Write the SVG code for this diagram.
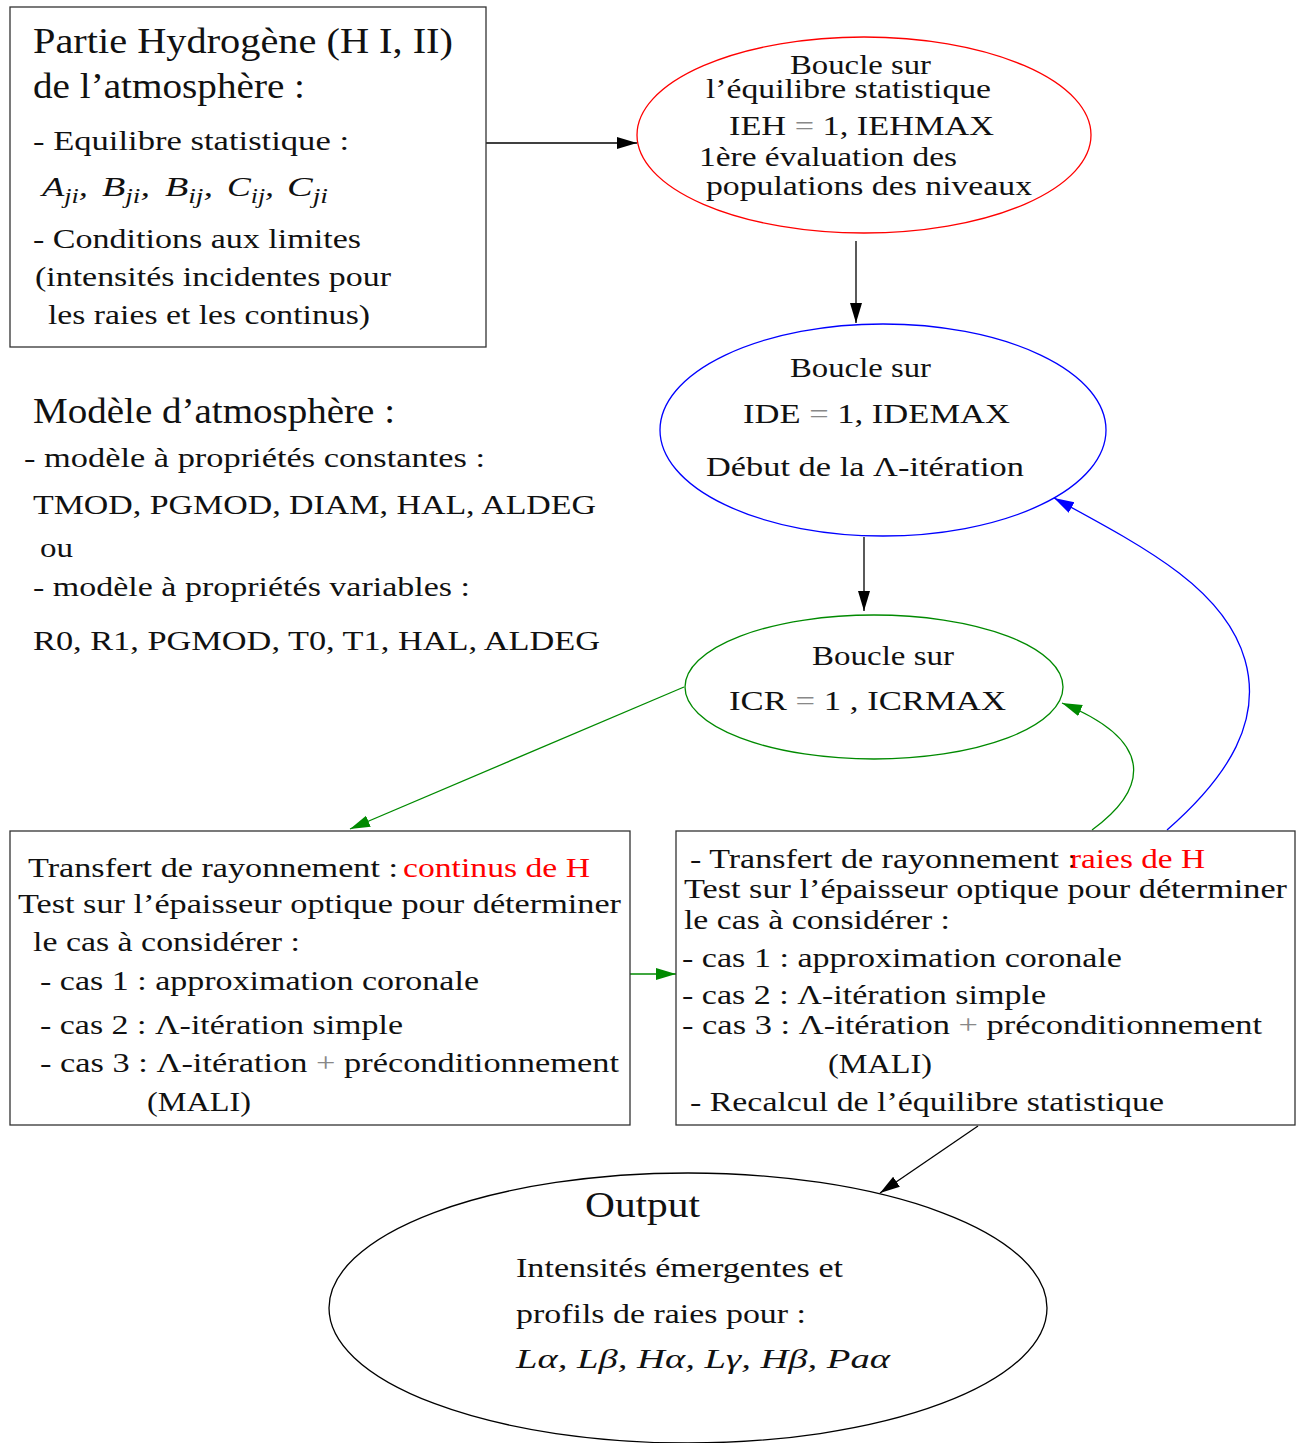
<svg xmlns="http://www.w3.org/2000/svg" width="1303" height="1443" viewBox="0 0 1303 1443">
<style>
text{font-family:"Liberation Serif","Times New Roman","DejaVu Serif",serif;fill:#111;font-size:28px}
.t{font-size:35px}
.s{font-size:27px}
.it{font-style:italic}
.red{fill:#f00}
.g{fill:#888}
.box{fill:#fff;stroke:#333;stroke-width:1.3}
.el{fill:none;stroke-width:1.3}
.c{fill:none;stroke-width:1.3}
</style>
<defs>
<marker id="ak" markerUnits="userSpaceOnUse" markerWidth="22" markerHeight="14" refX="20" refY="6" orient="auto"><path d="M0,0 L20,6 L0,12 z" fill="#000"/></marker>
<marker id="ab" markerUnits="userSpaceOnUse" markerWidth="22" markerHeight="14" refX="20" refY="6" orient="auto"><path d="M0,0 L20,6 L0,12 z" fill="#00f"/></marker>
<marker id="ag" markerUnits="userSpaceOnUse" markerWidth="22" markerHeight="14" refX="20" refY="6" orient="auto"><path d="M0,0 L20,6 L0,12 z" fill="#008a00"/></marker>
</defs>
<rect width="1303" height="1443" fill="#fff"/>

<g id="connectors">
<path class="c" stroke="#000" d="M486,143 L637,143" marker-end="url(#ak)"/>
<path class="c" stroke="#000" d="M856,241 L856,323" marker-end="url(#ak)"/>
<path class="c" stroke="#000" d="M864,537 L864,611" marker-end="url(#ak)"/>
<path class="c" stroke="#008a00" d="M684,687 L350,829" marker-end="url(#ag)"/>
<path class="c" stroke="#008a00" d="M630,974 L676,974" marker-end="url(#ag)"/>
<path class="c" stroke="#008a00" d="M1092,830 C1140,795 1165,745 1062,703" marker-end="url(#ag)"/>
<path class="c" stroke="#00f" d="M1167,830 C1230,775 1262,720 1245,660 C1225,590 1150,550 1054,498" marker-end="url(#ab)"/>
<path class="c" stroke="#000" d="M978,1126 L880,1193" marker-end="url(#ak)"/>
</g>

<g id="hydrogene">
<rect class="box" x="10" y="7" width="476" height="340"/>
<text class="t" x="33" y="53" textLength="420" lengthAdjust="spacingAndGlyphs">Partie Hydrogène (H I, II)</text>
<text class="t" x="33" y="98" textLength="272" lengthAdjust="spacingAndGlyphs">de l’atmosphère :</text>
<text x="33" y="150" textLength="316" lengthAdjust="spacingAndGlyphs">- Equilibre statistique :</text>
<text class="it" x="42" y="196" textLength="46" lengthAdjust="spacingAndGlyphs">A<tspan dy="7" font-size="20">ji</tspan><tspan dy="-7">,</tspan></text>
<text class="it" x="102" y="196" textLength="48" lengthAdjust="spacingAndGlyphs">B<tspan dy="7" font-size="20">ji</tspan><tspan dy="-7">,</tspan></text>
<text class="it" x="165" y="196" textLength="48" lengthAdjust="spacingAndGlyphs">B<tspan dy="7" font-size="20">ij</tspan><tspan dy="-7">,</tspan></text>
<text class="it" x="227" y="196" textLength="47" lengthAdjust="spacingAndGlyphs">C<tspan dy="7" font-size="20">ij</tspan><tspan dy="-7">,</tspan></text>
<text class="it" x="287" y="196" textLength="41" lengthAdjust="spacingAndGlyphs">C<tspan dy="7" font-size="20">ji</tspan></text>
<text x="33" y="248" textLength="328" lengthAdjust="spacingAndGlyphs">- Conditions aux limites</text>
<text x="35" y="286" textLength="356" lengthAdjust="spacingAndGlyphs">(intensités incidentes pour</text>
<text x="48" y="324" textLength="322" lengthAdjust="spacingAndGlyphs">les raies et les continus)</text>
</g>

<g id="modele">
<text class="t" x="33" y="423" textLength="362" lengthAdjust="spacingAndGlyphs">Modèle d’atmosphère :</text>
<text class="s" x="24" y="467" textLength="461" lengthAdjust="spacingAndGlyphs">- modèle à propriétés constantes :</text>
<text x="33" y="514" textLength="563" lengthAdjust="spacingAndGlyphs">TMOD, PGMOD, DIAM, HAL, ALDEG</text>
<text class="s" x="40" y="557" textLength="33" lengthAdjust="spacingAndGlyphs">ou</text>
<text class="s" x="33" y="596" textLength="437" lengthAdjust="spacingAndGlyphs">- modèle à propriétés variables :</text>
<text x="33" y="650" textLength="567" lengthAdjust="spacingAndGlyphs">R0, R1, PGMOD, T0, T1, HAL, ALDEG</text>
</g>

<g id="boucle-ieh">
<ellipse class="el" stroke="#f00" cx="864" cy="135" rx="227" ry="98"/>
<text x="790" y="74" textLength="141" lengthAdjust="spacingAndGlyphs">Boucle sur</text>
<text x="706" y="98" textLength="285" lengthAdjust="spacingAndGlyphs">l’équilibre statistique</text>
<text x="729" y="135" textLength="265" lengthAdjust="spacingAndGlyphs">IEH <tspan class="g">=</tspan> 1, IEHMAX</text>
<text x="699" y="166" textLength="258" lengthAdjust="spacingAndGlyphs">1ère évaluation des</text>
<text x="706" y="195" textLength="326" lengthAdjust="spacingAndGlyphs">populations des niveaux</text>
</g>

<g id="boucle-ide">
<ellipse class="el" stroke="#00f" cx="883" cy="430" rx="223" ry="106"/>
<text x="790" y="377" textLength="141" lengthAdjust="spacingAndGlyphs">Boucle sur</text>
<text x="743" y="423" textLength="267" lengthAdjust="spacingAndGlyphs">IDE <tspan class="g">=</tspan> 1, IDEMAX</text>
<text x="706" y="476" textLength="318" lengthAdjust="spacingAndGlyphs">Début de la Λ-itération</text>
</g>

<g id="boucle-icr">
<ellipse class="el" stroke="#008a00" cx="874" cy="687" rx="189" ry="72"/>
<text x="812" y="665" textLength="142" lengthAdjust="spacingAndGlyphs">Boucle sur</text>
<text x="729" y="710" textLength="277" lengthAdjust="spacingAndGlyphs">ICR <tspan class="g">=</tspan> 1 , ICRMAX</text>
</g>

<g id="transfert-continus">
<rect class="box" x="10" y="831" width="620" height="294"/>
<text x="28" y="877" textLength="370" lengthAdjust="spacingAndGlyphs">Transfert de rayonnement :</text>
<text class="red" x="403" y="877" textLength="187" lengthAdjust="spacingAndGlyphs">continus de H</text>
<text x="18" y="913" textLength="603" lengthAdjust="spacingAndGlyphs">Test sur l’épaisseur optique pour déterminer</text>
<text x="33" y="951" textLength="267" lengthAdjust="spacingAndGlyphs">le cas à considérer :</text>
<text x="40" y="990" textLength="439" lengthAdjust="spacingAndGlyphs">- cas 1 : approximation coronale</text>
<text x="40" y="1034" textLength="363" lengthAdjust="spacingAndGlyphs">- cas 2 : Λ-itération simple</text>
<text x="40" y="1072" textLength="579" lengthAdjust="spacingAndGlyphs">- cas 3 : Λ-itération <tspan class="g">+</tspan> préconditionnement</text>
<text x="147" y="1111" textLength="104" lengthAdjust="spacingAndGlyphs">(MALI)</text>
</g>

<g id="transfert-raies">
<rect class="box" x="676" y="831" width="619" height="294"/>
<text x="690" y="868" textLength="387" lengthAdjust="spacingAndGlyphs">- Transfert de rayonnement :</text>
<text class="red" x="1070" y="868" textLength="135" lengthAdjust="spacingAndGlyphs">raies de H</text>
<text x="684" y="898" textLength="603" lengthAdjust="spacingAndGlyphs">Test sur l’épaisseur optique pour déterminer</text>
<text x="684" y="929" textLength="266" lengthAdjust="spacingAndGlyphs">le cas à considérer :</text>
<text x="682" y="967" textLength="440" lengthAdjust="spacingAndGlyphs">- cas 1 : approximation coronale</text>
<text x="682" y="1004" textLength="364" lengthAdjust="spacingAndGlyphs">- cas 2 : Λ-itération simple</text>
<text x="682" y="1034" textLength="580" lengthAdjust="spacingAndGlyphs">- cas 3 : Λ-itération <tspan class="g">+</tspan> préconditionnement</text>
<text x="828" y="1073" textLength="104" lengthAdjust="spacingAndGlyphs">(MALI)</text>
<text x="690" y="1111" textLength="474" lengthAdjust="spacingAndGlyphs">- Recalcul de l’équilibre statistique</text>
</g>

<g id="output">
<ellipse class="el" stroke="#000" cx="688" cy="1308" rx="359" ry="135"/>
<text class="t" x="585" y="1217" textLength="115" lengthAdjust="spacingAndGlyphs">Output</text>
<text x="516" y="1277" textLength="327" lengthAdjust="spacingAndGlyphs">Intensités émergentes et</text>
<text x="516" y="1323" textLength="290" lengthAdjust="spacingAndGlyphs">profils de raies pour :</text>
<text class="it" x="516" y="1368" textLength="374" lengthAdjust="spacingAndGlyphs">Lα, Lβ, Hα, Lγ, Hβ, Paα</text>
</g>
</svg>
